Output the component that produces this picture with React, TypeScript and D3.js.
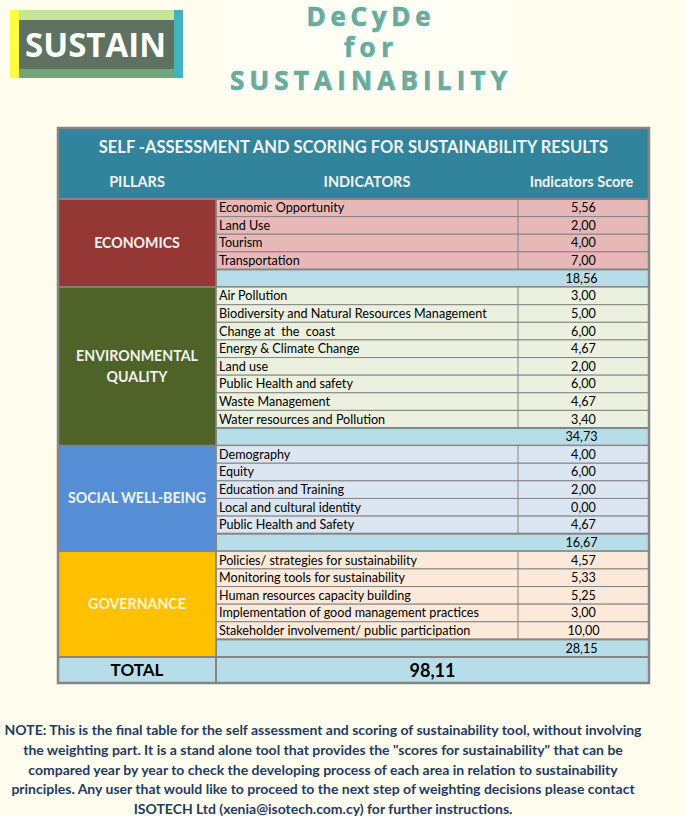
import React from "react";
import * as d3 from "d3";

// ---------- DATA ----------
const pillarNames = ["ECONOMICS", "ENVIRONMENTAL QUALITY", "SOCIAL WELL-BEING", "GOVERNANCE"];
const pillarLabelLines = [["ECONOMICS"], ["ENVIRONMENTAL", "QUALITY"], ["SOCIAL WELL-BEING"], ["GOVERNANCE"]];

const economicsIndicators = ["Economic Opportunity", "Land Use", "Tourism", "Transportation"];
const economicsScores = [5.56, 2.0, 4.0, 7.0];

const environmentIndicators = [
  "Air Pollution",
  "Biodiversity and Natural Resources Management",
  "Change at  the  coast",
  "Energy & Climate Change",
  "Land use",
  "Public Health and safety",
  "Waste Management",
  "Water resources and Pollution",
];
const environmentScores = [3.0, 5.0, 6.0, 4.67, 2.0, 6.0, 4.67, 3.4];

const socialIndicators = [
  "Demography",
  "Equity",
  "Education and Training",
  "Local and cultural identity",
  "Public Health and Safety",
];
const socialScores = [4.0, 6.0, 2.0, 0.0, 4.67];

const governanceIndicators = [
  "Policies/ strategies for sustainability",
  "Monitoring tools for sustainability",
  "Human resources capacity building",
  "Implementation of good management practices",
  "Stakeholder involvement/ public participation",
];
const governanceScores = [4.57, 5.33, 5.25, 3.0, 10.0];

const pillarSubtotals = [18.56, 34.73, 16.67, 28.15];
const totalScore = 98.11;

const tableTitle = "SELF -ASSESSMENT AND SCORING FOR SUSTAINABILITY RESULTS";
const headerLabels = ["PILLARS", "INDICATORS", "Indicators Score"];
const totalLabel = "TOTAL";
const logoText = "SUSTAIN";
const titleLines = ["DeCyDe", "for", "SUSTAINABILITY"];
const noteLines = [
  "NOTE: This is the final table for the self assessment and scoring of sustainability tool, without involving",
  "the weighting part. It is a stand alone tool that provides the \"scores for sustainability\" that can be",
  "compared year by year to check the developing process of each area in relation to sustainability",
  "principles. Any user that would like to proceed to the next step of weighting decisions please contact",
  "ISOTECH Ltd (xenia@isotech.com.cy) for further instructions.",
];

// ---------- STYLES ----------
const W = 686;
const H = 816;
const BG = "#FFFDEE";
const TEAL = "#31849B";
const GRID = "#858585";
const SUBTOTAL_FILL = "#B7DEE8";
const pillarFills = ["#953735", "#4F6228", "#558ED5", "#FFC000"];
const pillarTextFills = ["#F2F2F2", "#F2F2F2", "#F2F2F2", "#FFF6DA"];
const rowFills = ["#E6B9B8", "#EBF1DE", "#DCE6F2", "#FDE9D9"];
const FONT = "Lato, 'Open Sans', sans-serif";
const TITLE_FONT = "'Open Sans', Lato, sans-serif";

const indicatorsByPillar = [economicsIndicators, environmentIndicators, socialIndicators, governanceIndicators];
const scoresByPillar = [economicsScores, environmentScores, socialScores, governanceScores];

const locale = d3.formatLocale({ decimal: ",", thousands: ".", grouping: [3], currency: ["", ""] });
const fmt = locale.format(".2f");

type Row = { id: string; pillar: number; kind: "ind" | "sub"; label: string; value: number };

export default function App() {
  const rows: Row[] = [];
  pillarNames.forEach((p, pi) => {
    indicatorsByPillar[pi].forEach((ind, i) => {
      rows.push({ id: `${pi}-${i}`, pillar: pi, kind: "ind", label: ind, value: scoresByPillar[pi][i] });
    });
    rows.push({ id: `${pi}-sub`, pillar: pi, kind: "sub", label: "", value: pillarSubtotals[pi] });
  });

  // column scale: pillars | indicators | score
  const xCols = d3.scaleOrdinal<string, [number, number]>()
    .domain(["pillar", "ind", "score"])
    .range([[58, 216], [216, 518], [518, 649]]);
  const colMid = (c: string) => (xCols(c)[0] + xCols(c)[1]) / 2;

  const y = d3.scaleBand<string>().domain(rows.map((r) => r.id)).range([199, 657]).paddingInner(0);
  const bw = y.bandwidth();
  const tableLeft = 58, tableRight = 649, tableTop = 128, totalTop = 657, totalBottom = 683;

  const pillarExtent = pillarNames.map((_, pi) => {
    const ids = rows.filter((r) => r.pillar === pi).map((r) => r.id);
    return [y(ids[0])!, y(ids[ids.length - 1])! + bw];
  });

  return (
    <svg width={W} height={H} style={{ position: "absolute", left: 0, top: 0, display: "block" }}>
      <rect x={0} y={0} width={W} height={H} fill={BG} />

      {/* Logo */}
      <g>
        <rect x={10} y={10} width={9} height={68} fill="#FFFF3F" />
        <rect x={19} y={10} width={155} height={10} fill="#C5E697" />
        <rect x={19} y={20} width={155} height={49} fill="#5F7262" />
        <rect x={19} y={69} width={155} height={9} fill="#72A57C" />
        <rect x={174} y={10} width={9} height={68} fill="#3FB4BE" />
        <text x={25} y={57} fill="#FFFFFF" fontFamily={TITLE_FONT} fontWeight={700} fontSize={34}
          textLength={141} lengthAdjust="spacingAndGlyphs">{logoText}</text>
      </g>

      {/* Title */}
      <rect x={222} y={0} width={291} height={94} fill="#FFFEF5" />
      {titleLines.map((t, i) => {
        const base = [26, 57, 90][i];
        const len = [124, 49, 277][i];
        return (
          <text key={t} x={368.5} y={base} textAnchor="middle" fill="#7BA591" stroke="#3FBAC4" strokeWidth={0.7}
            fontFamily={TITLE_FONT} fontWeight={700} fontSize={26} textLength={len} lengthAdjust="spacing">{t}</text>
        );
      })}

      {/* Table header */}
      <rect x={tableLeft} y={tableTop} width={tableRight - tableLeft} height={199 - tableTop} fill={TEAL} />
      <text x={(tableLeft + tableRight) / 2} y={153} textAnchor="middle" fill="#F2F2F2" fontFamily={FONT}
        fontWeight={700} fontSize={16.5}>{tableTitle}</text>
      {["pillar", "ind", "score"].map((c, i) => (
        <text key={c} x={c === "score" ? colMid(c) - 2 : colMid(c)} y={187} textAnchor="middle" fill="#F2F2F2"
          fontFamily={FONT} fontWeight={700} fontSize={14.5}>{headerLabels[i]}</text>
      ))}

      {/* Rows */}
      {rows.map((r) => {
        const y0 = y(r.id)!;
        if (r.kind === "ind") {
          return (
            <g key={r.id}>
              <rect x={xCols("ind")[0]} y={y0} width={xCols("score")[1] - xCols("ind")[0]} height={bw}
                fill={rowFills[r.pillar]} stroke={GRID} strokeWidth={1} />
              <line x1={xCols("score")[0]} x2={xCols("score")[0]} y1={y0} y2={y0 + bw} stroke={GRID} strokeWidth={1} />
              <text x={xCols("ind")[0] + 3} y={y0 + bw / 2} dy="0.35em" fontFamily={FONT} fontSize={12.6}
                fill="#000" style={{ whiteSpace: "pre" }}>{r.label}</text>
              <text x={colMid("score")} y={y0 + bw / 2} dy="0.35em" textAnchor="middle" fontFamily={FONT}
                fontSize={12.6} fill="#000">{fmt(r.value)}</text>
            </g>
          );
        }
        return (
          <g key={r.id}>
            <rect x={xCols("ind")[0]} y={y0} width={xCols("score")[1] - xCols("ind")[0]} height={bw}
              fill={SUBTOTAL_FILL} stroke={GRID} strokeWidth={2} />
            <text x={colMid("score") - 2} y={y0 + bw / 2} dy="0.35em" textAnchor="middle" fontFamily={FONT}
              fontSize={12.6} fill="#000">{fmt(r.value)}</text>
          </g>
        );
      })}

      {/* Pillar cells */}
      {pillarNames.map((p, pi) => {
        const [a, b] = pillarExtent[pi];
        const lines = pillarLabelLines[pi];
        const mid = (a + b) / 2;
        return (
          <g key={p}>
            <rect x={xCols("pillar")[0]} y={a} width={xCols("pillar")[1] - xCols("pillar")[0]} height={b - a}
              fill={pillarFills[pi]} stroke={GRID} strokeWidth={1.5} />
            {lines.map((l, li) => (
              <text key={l} x={colMid("pillar")} y={mid + (li - (lines.length - 1) / 2) * 21} dy="0.35em"
                textAnchor="middle" fill={pillarTextFills[pi]} fontFamily={FONT} fontWeight={700}
                fontSize={14.2}>{l}</text>
            ))}
          </g>
        );
      })}

      {/* Total row */}
      <rect x={tableLeft} y={totalTop} width={tableRight - tableLeft} height={totalBottom - totalTop}
        fill={SUBTOTAL_FILL} stroke={GRID} strokeWidth={2} />
      <line x1={xCols("pillar")[1]} x2={xCols("pillar")[1]} y1={totalTop} y2={totalBottom} stroke={GRID} strokeWidth={2} />
      <text x={colMid("pillar")} y={676} textAnchor="middle" fontFamily={FONT} fontWeight={700} fontSize={17}
        fill="#000">{totalLabel}</text>
      <text x={(xCols("ind")[0] + xCols("score")[1]) / 2} y={676.5} textAnchor="middle" fontFamily={FONT}
        fontWeight={700} fontSize={18} fill="#000">{fmt(totalScore)}</text>

      {/* Outer border */}
      <rect x={tableLeft} y={tableTop} width={tableRight - tableLeft} height={totalBottom - tableTop}
        fill="none" stroke={GRID} strokeWidth={2.5} />
      <line x1={tableLeft} x2={tableRight} y1={199} y2={199} stroke={GRID} strokeWidth={2} />

      {/* Note */}
      {noteLines.map((l, i) => (
        <text key={i} x={323} y={735 + i * 19.8} textAnchor="middle" fontFamily={FONT} fontWeight={700}
          fontSize={14} fill="#1F3B64">{l}</text>
      ))}
    </svg>
  );
}
